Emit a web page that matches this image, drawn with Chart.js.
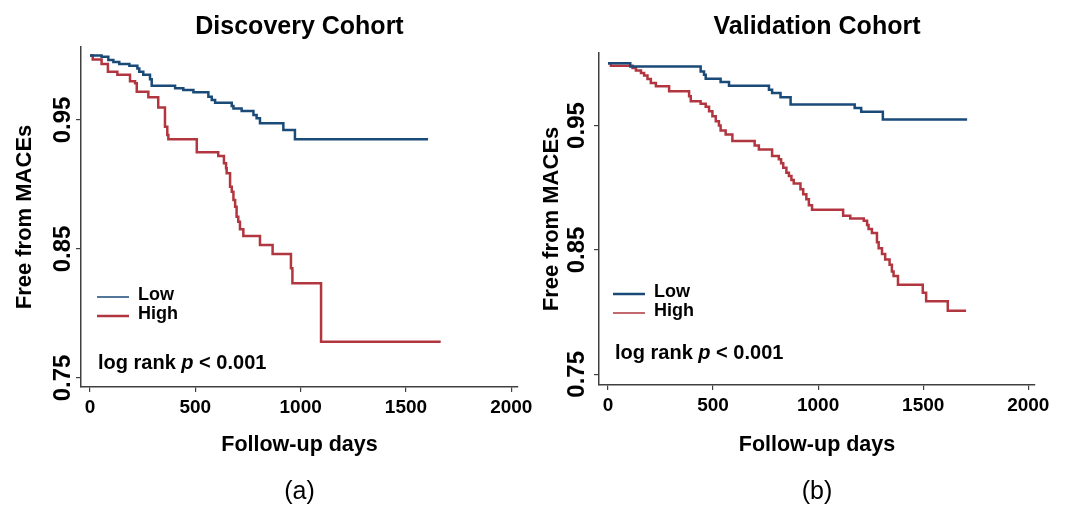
<!DOCTYPE html>
<html>
<head>
<meta charset="utf-8">
<script src="https://cdn.jsdelivr.net/npm/chart.js@4.4.1/dist/chart.umd.min.js"></script>
<style>
  html, body { margin: 0; padding: 0; background: #fff; }
  #wrap { position: relative; width: 1065px; height: 507px; }
  .panel { position: absolute; top: 0; }
  #left { left: 0; }
  #right { left: 532px; }
</style>
</head>
<body>
<div id="wrap">
  <div class="panel" id="left"><canvas id="chartA" width="545" height="507"></canvas></div>
  <div class="panel" id="right"><canvas id="chartB" width="533" height="507"></canvas></div>
</div>
<script>
const xTicks = [0, 500, 1000, 1500, 2000];
const yTicks = [0.75, 0.85, 0.95];
const groups = ['Low', 'High'];

// Discovery cohort, step points (day, survival after event)
const discLowDays = [0, 55, 87, 111, 139, 187, 225, 234, 253, 285, 293, 404, 443, 491, 562, 578, 594, 673, 681, 720, 776, 791, 807, 918, 973, 1605];
const discLowSurv = [1.0, 0.999, 0.9965, 0.995, 0.9934, 0.992, 0.990, 0.9875, 0.985, 0.9815, 0.9766, 0.9746, 0.9733, 0.9715, 0.968, 0.9655, 0.9634, 0.9609, 0.959, 0.957, 0.9539, 0.9513, 0.9474, 0.9422, 0.935, 0.935];
const discHighDays = [0, 13, 55, 85, 130, 190, 214, 222, 277, 324, 356, 367, 372, 507, 609, 636, 646, 649, 665, 673, 681, 689, 696, 704, 712, 728, 807, 867, 954, 961, 1097, 1665];
const discHighSurv = [1.0, 0.997, 0.9934, 0.9875, 0.985, 0.980, 0.9785, 0.972, 0.9676, 0.9596, 0.9448, 0.9384, 0.935, 0.925, 0.9221, 0.9164, 0.9125, 0.9087, 0.8983, 0.8944, 0.888, 0.8828, 0.875, 0.8712, 0.8653, 0.8601, 0.8531, 0.8461, 0.835, 0.8234, 0.7781, 0.7781];

// Validation cohort
const valLowDays = [0, 106, 441, 457, 465, 536, 576, 766, 781, 821, 869, 1174, 1205, 1308, 1709];
const valLowSurv = [1.0, 0.9975, 0.9935, 0.9908, 0.9876, 0.985, 0.982, 0.9788, 0.9762, 0.9727, 0.9668, 0.9641, 0.961, 0.9548, 0.9548];
const valHighDays = [0, 14, 117, 133, 157, 172, 188, 204, 228, 291, 386, 394, 441, 465, 481, 497, 513, 528, 536, 560, 592, 698, 718, 781, 813, 824, 834, 849, 861, 873, 884, 916, 929, 944, 956, 971, 1119, 1153, 1217, 1233, 1240, 1256, 1280, 1288, 1304, 1319, 1340, 1351, 1359, 1380, 1498, 1514, 1617, 1704];
const valHighSurv = [1.0, 0.998, 0.9962, 0.9943, 0.9922, 0.9903, 0.9874, 0.9842, 0.9815, 0.9775, 0.9735, 0.9695, 0.9676, 0.965, 0.9615, 0.9575, 0.9535, 0.95, 0.946, 0.9428, 0.9375, 0.934, 0.9308, 0.9255, 0.9228, 0.9196, 0.9161, 0.9121, 0.9095, 0.9063, 0.9033, 0.8988, 0.8948, 0.8908, 0.886, 0.8823, 0.8775, 0.8753, 0.8735, 0.870, 0.8668, 0.8636, 0.8561, 0.8513, 0.8468, 0.8423, 0.838, 0.8327, 0.829, 0.822, 0.8156, 0.8087, 0.801, 0.801];

const fam = "'Liberation Sans', Arial, sans-serif";
const blue = '#1a4a78';
const red = '#b1363f';
const axisCol = '#404040';

const toPts = (d, s) => d.map((x, i) => ({ x: x, y: s[i] }));

// y tick labels (rotated), legend and log-rank note
const extras = {
  id: 'extras',
  afterDraw(chart, args, o) {
    const ctx = chart.ctx;
    const ys = chart.scales.y;
    ctx.save();
    ctx.fillStyle = '#000';
    ctx.font = 'bold 24px ' + fam;
    ctx.textAlign = 'center';
    ctx.textBaseline = 'middle';
    ys.ticks.forEach(t => {
      ctx.save();
      ctx.translate(ys.right - o.yLabelGap, ys.getPixelForValue(t.value));
      ctx.rotate(-Math.PI / 2);
      ctx.fillText(t.value.toFixed(2), 0, 0);
      ctx.restore();
    });

    // legend
    const cols = [blue, red];
    ctx.textAlign = 'left';
    ctx.font = 'bold 18px ' + fam;
    groups.forEach((g, i) => {
      const ly = o.legY[i];
      ctx.strokeStyle = cols[i];
      ctx.lineWidth = o.legW[i];
      ctx.beginPath();
      ctx.moveTo(o.legX, ly + 2);
      ctx.lineTo(o.legX + 32, ly + 2);
      ctx.stroke();
      ctx.fillStyle = '#000';
      ctx.fillText(g, o.legX + 41, ly);
    });

    // log rank p < 0.001
    ctx.textBaseline = 'alphabetic';
    let x = o.noteX;
    const parts = [['log rank ', 'bold'], ['p', 'italic bold'], [' < 0.001', 'bold']];
    parts.forEach(p => {
      ctx.font = p[1] + ' 20px ' + fam;
      ctx.fillText(p[0], x, o.noteY);
      x += ctx.measureText(p[0]).width;
    });
    ctx.restore();
  }
};

function makeChart(id, title, sub, lowD, lowS, highD, highS, L) {
  return new Chart(document.getElementById(id), {
    type: 'line',
    data: {
      datasets: [
        { label: groups[0], data: toPts(lowD, lowS), borderColor: blue, borderWidth: 2.5, stepped: true, pointRadius: 0, fill: false },
        { label: groups[1], data: toPts(highD, highS), borderColor: red, borderWidth: 2.5, stepped: true, pointRadius: 0, fill: false }
      ]
    },
    options: {
      responsive: false,
      animation: false,
      layout: { padding: { left: 0, right: L.padRight, top: 0, bottom: 0 } },
      plugins: {
        legend: { display: false },
        tooltip: { enabled: false },
        title: {
          display: true, text: title, fullSize: false, color: '#000',
          font: { size: 25, weight: 'bold', family: fam },
          padding: { top: 12, bottom: L.titleBottom }
        },
        subtitle: {
          display: true, text: sub, position: 'bottom', fullSize: false, color: '#000',
          font: { size: 25, weight: 'normal', family: fam },
          padding: { top: 10, bottom: 0 }
        },
        extras: L
      },
      scales: {
        x: {
          type: 'linear', min: -42.7, max: 2032,
          afterBuildTicks: s => { s.ticks = xTicks.map(v => ({ value: v })); },
          afterFit: s => { s.height = L.xHeight; s.paddingLeft = 0; s.paddingRight = 0; },
          grid: { drawOnChartArea: false, drawTicks: true, tickLength: 5, color: axisCol, lineWidth: 1.2 },
          border: { display: true, color: axisCol, width: 1.5 },
          ticks: {
            font: { size: 19, weight: 'bold', family: fam }, color: '#000', padding: 4, maxRotation: 0,
            callback: v => String(v)
          },
          title: {
            display: true, text: 'Follow-up days', color: '#000',
            font: { size: 21.5, weight: 'bold', family: fam },
            padding: { top: 0, bottom: 9.1 }
          }
        },
        y: {
          min: L.yMin, max: L.yMax,
          afterBuildTicks: s => { s.ticks = yTicks.map(v => ({ value: v })); },
          afterFit: s => { s.width = L.yWidth; s.paddingTop = 0; s.paddingBottom = 0; },
          grid: { drawOnChartArea: false, drawTicks: true, tickLength: 5, color: axisCol, lineWidth: 1.2 },
          border: { display: true, color: axisCol, width: 1.5 },
          ticks: { display: false },
          title: {
            display: true, text: 'Free from MACEs', color: '#000',
            font: { size: 22, weight: 'bold', family: fam },
            padding: { top: L.yTitlePad, bottom: 0 }
          }
        }
      }
    },
    plugins: [extras]
  });
}

makeChart('chartA', 'Discovery Cohort', '(a)', discLowDays, discLowSurv, discHighDays, discHighSurv, {
  padRight: 27, titleBottom: 5, xHeight: 80, yWidth: 81, yTitlePad: 11.8,
  yMin: 0.743, yMax: 1.0066, yLabelGap: 18,
  legX: 97, legY: [295, 314], legW: [1.5, 2.5], noteX: 98, noteY: 369
});

makeChart('chartB', 'Validation Cohort', '(b)', valLowDays, valLowSurv, valHighDays, valHighSurv, {
  padRight: 30, titleBottom: 11, xHeight: 82, yWidth: 67, yTitlePad: 6.8,
  yMin: 0.7414, yMax: 1.0083, yLabelGap: 22,
  legX: 81, legY: [292, 311], legW: [2.5, 1.5], noteX: 83, noteY: 359
});
</script>
</body>
</html>
